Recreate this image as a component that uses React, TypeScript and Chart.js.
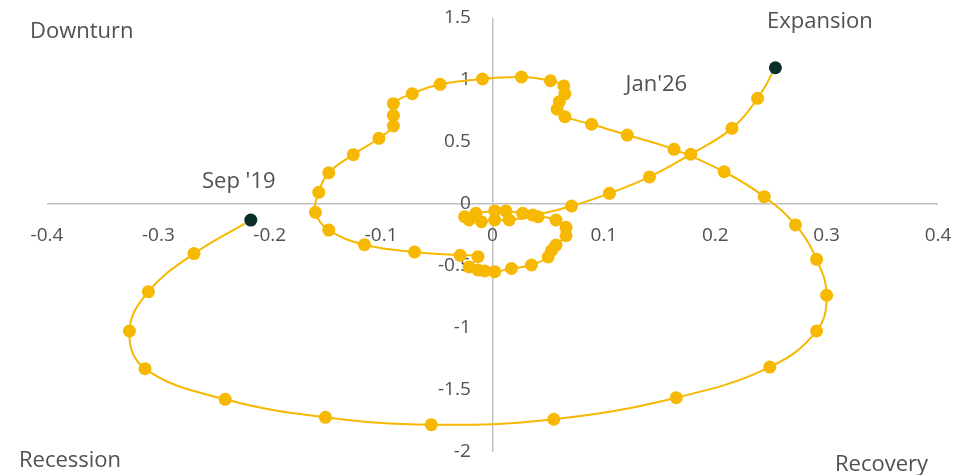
import React, { useEffect, useRef } from "react";
import { Chart, registerables } from "chart.js";

Chart.register(...registerables);

// Monthly path, Sep '19 -> Jan '26 (x: horizontal indicator, y: vertical indicator)
const xValues: number[] = [
  -0.217, -0.268, -0.309, -0.326, -0.312, -0.24, -0.15, -0.055, 0.055, 0.165,
  0.249, 0.291, 0.3, 0.291, 0.272, 0.244, 0.208, 0.163, 0.121, 0.089,
  0.065, 0.058, 0.06, 0.065, 0.064, 0.052, 0.026, -0.009, -0.047, -0.072,
  -0.089, -0.089, -0.089, -0.102, -0.125, -0.147, -0.156, -0.159, -0.147, -0.115,
  -0.07, -0.029, -0.013, -0.021, -0.013, -0.007, 0.002, 0.017, 0.035, 0.05,
  0.053, 0.057, 0.066, 0.066, 0.057, 0.041, 0.015, 0.002, -0.01, -0.021,
  -0.025, -0.015, 0.002, 0.012, 0.027, 0.036, 0.071, 0.105, 0.141, 0.178,
  0.215, 0.238, 0.254,
];
const yValues: number[] = [
  -0.13, -0.4, -0.707, -1.024, -1.328, -1.575, -1.72, -1.78, -1.736, -1.562,
  -1.315, -1.024, -0.736, -0.446, -0.169, 0.059, 0.26, 0.441, 0.556, 0.643,
  0.704, 0.764, 0.825, 0.887, 0.952, 0.994, 1.024, 1.008, 0.965, 0.89,
  0.809, 0.715, 0.629, 0.53, 0.398, 0.252, 0.094, -0.067, -0.21, -0.328,
  -0.387, -0.414, -0.425, -0.508, -0.532, -0.54, -0.546, -0.52, -0.492, -0.427,
  -0.375, -0.331, -0.256, -0.188, -0.129, -0.102, -0.129, -0.129, -0.143, -0.129,
  -0.102, -0.075, -0.056, -0.056, -0.075, -0.089, -0.016, 0.086, 0.218, 0.401,
  0.61, 0.852, 1.099,
];

const startLabel = "Sep '19";
const endLabel = "Jan'26";
const quadrantLabels = ["Downturn", "Expansion", "Recession", "Recovery"];

const X_MIN = -0.4;
const X_MAX = 0.4;
const X_STEP = 0.1;
const Y_MIN = -2;
const Y_MAX = 1.5;
const Y_STEP = 0.5;

const YELLOW = "#F6B800";
const DARK = "#0B2E2B";
const TEXT = "#505050";
const AXIS = "#C0C0C0";
const FONT = "'Open Sans', 'Noto Sans', sans-serif";

const fmt = (v: any) => String(Number(Number(v).toFixed(3)));

export default function App() {
  const canvasRef = useRef<HTMLCanvasElement | null>(null);

  useEffect(() => {
    if (!canvasRef.current) return;
    const points = xValues.map((x, i) => ({ x, y: yValues[i] }));
    const last = points.length - 1;
    const colors = points.map((_, i) => (i === 0 || i === last ? DARK : YELLOW));

    const labelPlugin = {
      id: "labels",
      afterDatasetsDraw(chart: any) {
        const { ctx, scales } = chart;
        const xs = scales.x;
        const ys = scales.y;
        ctx.save();
        ctx.fillStyle = TEXT;
        ctx.font = `22px ${FONT}`;
        ctx.textBaseline = "alphabetic";
        // point annotations
        const p0x = xs.getPixelForValue(points[0].x);
        const p0y = ys.getPixelForValue(points[0].y);
        ctx.textAlign = "center";
        ctx.fillText(startLabel, p0x - 12, p0y - 32);
        const p1x = xs.getPixelForValue(points[last].x);
        const p1y = ys.getPixelForValue(points[last].y);
        ctx.fillText(endLabel, p1x - 119, p1y + 23);
        // quadrant labels
        ctx.textAlign = "left";
        ctx.fillText(quadrantLabels[0], 30, 38);
        ctx.fillText(quadrantLabels[1], 767, 28);
        ctx.fillText(quadrantLabels[2], 19, 467);
        ctx.fillText(quadrantLabels[3], 835, 471);
        ctx.restore();
      },
    };

    const chart = new Chart(canvasRef.current, {
      type: "scatter",
      data: {
        datasets: [
          {
            data: points,
            showLine: true,
            borderColor: YELLOW,
            borderWidth: 2,
            tension: 0.4,
            pointRadius: 6.5,
            pointHoverRadius: 6.5,
            pointBorderWidth: 0,
            pointBackgroundColor: colors,
            pointBorderColor: colors,
          },
        ],
      },
      options: {
        responsive: false,
        animation: false,
        layout: { padding: { left: 47, right: 39, top: 18, bottom: 23 } },
        plugins: {
          legend: { display: false },
          tooltip: { enabled: false },
        },
        scales: {
          x: {
            type: "linear",
            min: X_MIN,
            max: X_MAX,
            position: { y: 0 } as any,
            border: { display: false },
            grid: {
              drawTicks: false,
              lineWidth: 1.5,
              color: (c: any) => (c.tick && Math.abs(c.tick.value) < 1e-9 ? AXIS : "rgba(0,0,0,0)"),
            },
            ticks: {
              stepSize: X_STEP,
              padding: 20,
              color: TEXT,
              font: { family: FONT, size: 19 },
              maxRotation: 0,
              callback: (v: any) => fmt(v),
            },
          },
          y: {
            type: "linear",
            min: Y_MIN,
            max: Y_MAX,
            position: { x: -0.0195 } as any,
            border: { display: false },
            grid: {
              drawTicks: false,
              lineWidth: 1.5,
              color: (c: any) => (c.tick && Math.abs(c.tick.value) < 1e-9 ? AXIS : "rgba(0,0,0,0)"),
            },
            ticks: {
              stepSize: Y_STEP,
              padding: 0,
              color: TEXT,
              font: { family: FONT, size: 19 },
              callback: (v: any) => fmt(v),
            },
          },
        },
      },
      plugins: [labelPlugin],
    });
    return () => chart.destroy();
  }, []);

  return (
    <div style={{ position: "absolute", left: 0, top: 0, width: 977, height: 475 }}>
      <canvas ref={canvasRef} width={977} height={475} style={{ width: 977, height: 475 }} />
    </div>
  );
}
